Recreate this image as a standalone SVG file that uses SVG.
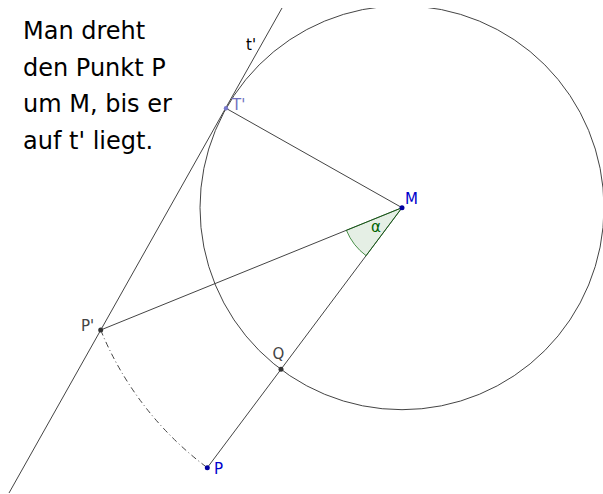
<svg xmlns="http://www.w3.org/2000/svg" width="603" height="494" viewBox="0 0 603 494">
<style>
.ln{fill:none;stroke:#444;stroke-width:1}
.lbl{font-family:"DejaVu Sans",sans-serif;font-size:15px}
.txt{font-family:"DejaVu Sans",sans-serif;font-size:24px;fill:#000}
</style>
<defs>
<clipPath id="clip"><rect x="0" y="8" width="603" height="486"/></clipPath>
</defs>
<rect width="603" height="494" fill="#fff"/>
<g id="connectors" clip-path="url(#clip)">
<circle class="ln" cx="402" cy="207.7" r="202"/>
<line class="ln" x1="282" y1="8" x2="9" y2="493"/>
<line class="ln" x1="402" y1="207.7" x2="226" y2="108.3"/>
<line class="ln" x1="402" y1="207.7" x2="100.7" y2="330"/>
<line class="ln" x1="402" y1="207.7" x2="207.3" y2="467.7"/>
<path class="ln" d="M100.7 330 A325 325 0 0 0 207.3 467.7" stroke="#555" stroke-dasharray="6,3,1,3"/>
</g>
<g id="angle">
<path d="M402 207.7 L346.4 230.3 A60 60 0 0 0 366.1 255.7 Z" fill="#006400" fill-opacity="0.1" stroke="#006400" stroke-opacity="0.7" stroke-width="1"/>
<text class="lbl" x="371" y="232" fill="#006400">α</text>
</g>
<g id="M"><circle cx="402" cy="207.7" r="2.5" fill="#0000a0"/><text class="lbl" x="405" y="203.5" fill="#0000cc">M</text></g>
<g id="T1"><circle cx="226" cy="108.3" r="2.2" fill="#7878cc"/><text class="lbl" x="232" y="109.5" fill="#7070c0">T'</text></g>
<g id="P1"><circle cx="100.7" cy="330" r="2.5" fill="#333"/><text class="lbl" x="81" y="331" fill="#444">P'</text></g>
<g id="Q"><circle cx="281" cy="369.3" r="2.5" fill="#333"/><text class="lbl" x="272.5" y="358.5" fill="#444">Q</text></g>
<g id="P"><circle cx="207.3" cy="467.7" r="2.5" fill="#0000a0"/><text class="lbl" x="214" y="474" fill="#0000cc">P</text></g>
<g id="t"><text class="lbl" x="246" y="50" fill="#000">t'</text></g>
<g id="caption">
<text class="txt" x="23" y="39">Man dreht</text>
<text class="txt" x="23" y="75.5">den Punkt P</text>
<text class="txt" x="23" y="112">um M, bis er</text>
<text class="txt" x="23" y="148.5">auf t' liegt.</text>
</g>
</svg>
